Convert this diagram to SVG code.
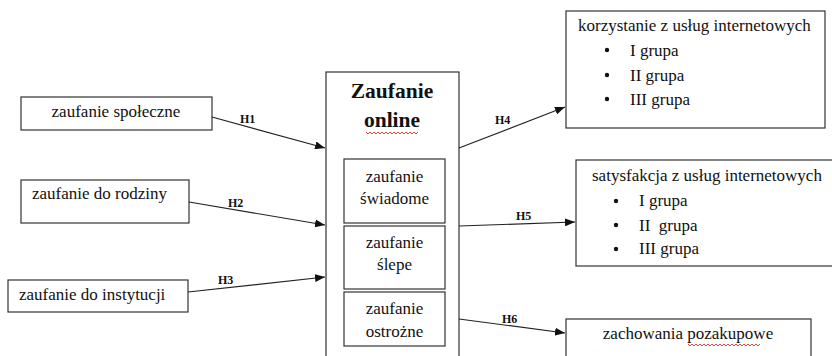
<svg xmlns="http://www.w3.org/2000/svg" width="832" height="356" viewBox="0 0 832 356" font-family="'Liberation Serif', serif">
<style>
.box{fill:#fff;stroke:#333;stroke-width:1.2}
.t{font-size:17px;fill:#111}
.c{text-anchor:middle}
.h{font-size:12px;font-weight:bold;fill:#111}
.ttl{font-size:21.5px;font-weight:bold;fill:#111;text-anchor:middle}
.ln{stroke:#222;stroke-width:1.2;fill:none;marker-end:url(#ah)}
.wavy{fill:none;stroke:#e03030;stroke-width:0.9}
</style>
<defs>
<marker id="ah" viewBox="0 0 10 8" refX="10" refY="4" markerWidth="10" markerHeight="8" markerUnits="userSpaceOnUse" orient="auto">
<path d="M0,0 L10,4 L0,8 Z" fill="#111"/>
</marker>
</defs>
<rect width="832" height="356" fill="#fff"/>

<g id="n-spoleczne">
<rect class="box" x="21" y="97" width="191" height="33"/>
<text class="t" x="116" y="117" text-anchor="middle">zaufanie społeczne</text>
</g>
<g id="n-rodziny">
<rect class="box" x="21" y="180" width="168" height="43"/>
<text class="t" x="32" y="199">zaufanie do rodziny</text>
</g>
<g id="n-instytucji">
<rect class="box" x="8" y="280" width="180" height="32"/>
<text class="t" x="19" y="300">zaufanie do instytucji</text>
</g>

<g id="n-online">
<rect class="box" x="326" y="72" width="133" height="290"/>
<text class="ttl" x="392" y="98">Zaufanie</text>
<text class="ttl" x="392" y="127">online</text>
<path class="wavy" d="M366,132 l2,2 l2,-2 l2,2 l2,-2 l2,2 l2,-2 l2,2 l2,-2 l2,2 l2,-2 l2,2 l2,-2 l2,2 l2,-2 l2,2 l2,-2 l2,2 l2,-2 l2,2 l2,-2 l2,2 l2,-2 l2,2 l2,-2 l2,2 l2,-2"/>
</g>
<g id="n-swiadome">
<rect class="box" x="344" y="159" width="101" height="64"/>
<text class="t c" x="394.5" y="182">zaufanie</text>
<text class="t c" x="394.5" y="204">świadome</text>
</g>
<g id="n-slepe">
<rect class="box" x="344" y="226" width="101" height="63"/>
<text class="t c" x="394.5" y="248">zaufanie</text>
<text class="t c" x="394.5" y="270">ślepe</text>
</g>
<g id="n-ostrozne">
<rect class="box" x="344" y="292" width="101" height="54"/>
<text class="t c" x="394.5" y="314">zaufanie</text>
<text class="t c" x="394.5" y="337">ostrożne</text>
</g>

<g id="n-korzystanie">
<rect class="box" x="566" y="11" width="259" height="117"/>
<text class="t" x="578" y="31">korzystanie z usług internetowych</text>
<circle cx="607" cy="50" r="2.2" fill="#111"/>
<circle cx="607" cy="75" r="2.2" fill="#111"/>
<circle cx="607" cy="99" r="2.2" fill="#111"/>
<text class="t" x="630" y="56">I grupa</text>
<text class="t" x="630" y="81">II grupa</text>
<text class="t" x="630" y="105">III grupa</text>
</g>
<g id="n-satysfakcja">
<rect class="box" x="576" y="160" width="262" height="106"/>
<text class="t" x="592" y="181">satysfakcja z usług internetowych</text>
<circle cx="616" cy="201" r="2.2" fill="#111"/>
<circle cx="616" cy="225" r="2.2" fill="#111"/>
<circle cx="616" cy="249" r="2.2" fill="#111"/>
<text class="t" x="639" y="206">I grupa</text>
<text class="t" x="639" y="231" xml:space="preserve">II  grupa</text>
<text class="t" x="639" y="254">III grupa</text>
</g>
<g id="n-zachowania">
<rect class="box" x="566" y="319" width="245" height="50"/>
<text class="t c" x="688" y="339">zachowania pozakupowe</text>
<path class="wavy" d="M688,344 l2,2 l2,-2 l2,2 l2,-2 l2,2 l2,-2 l2,2 l2,-2 l2,2 l2,-2 l2,2 l2,-2 l2,2 l2,-2 l2,2 l2,-2 l2,2 l2,-2 l2,2 l2,-2 l2,2 l2,-2 l2,2 l2,-2 l2,2 l2,-2 l2,2 l2,-2 l2,2 l2,-2 l2,2 l2,-2 l2,2 l2,-2 l2,2 l2,-2"/>
</g>

<g id="connectors">
<line class="ln" x1="212" y1="117" x2="325" y2="148"/>
<line class="ln" x1="189" y1="202" x2="325" y2="225"/>
<line class="ln" x1="188" y1="292" x2="325" y2="277"/>
<line class="ln" x1="459" y1="148" x2="565" y2="107"/>
<line class="ln" x1="459" y1="226" x2="575" y2="222"/>
<line class="ln" x1="459" y1="319" x2="565" y2="333"/>
<text class="h" x="240" y="123">H1</text>
<text class="h" x="228" y="207">H2</text>
<text class="h" x="218" y="284">H3</text>
<text class="h" x="495" y="124">H4</text>
<text class="h" x="516" y="220">H5</text>
<text class="h" x="502" y="323">H6</text>
</g>
</svg>
